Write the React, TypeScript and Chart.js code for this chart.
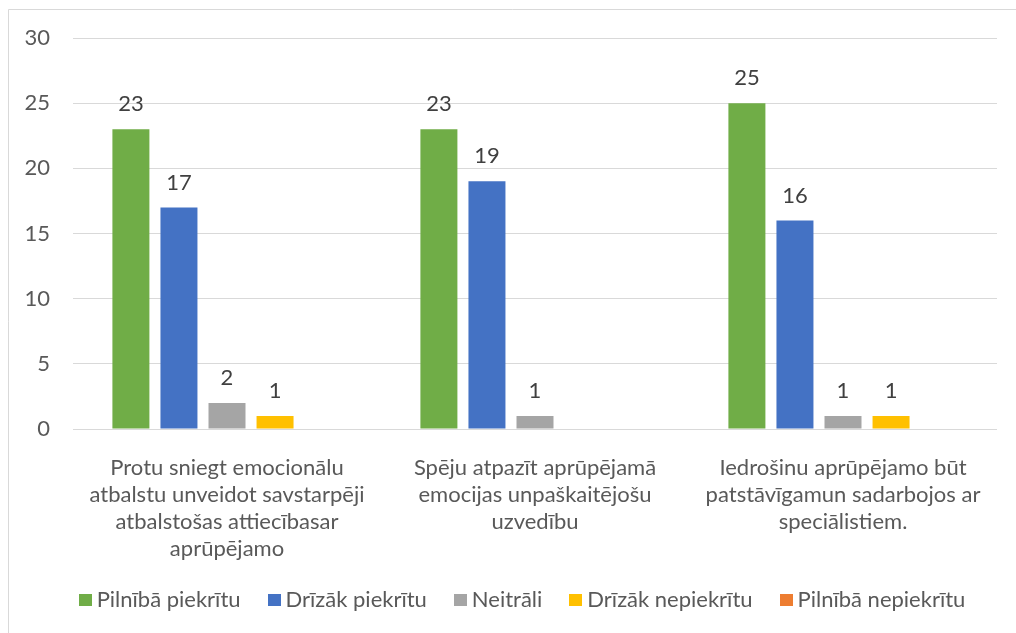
import React, { useEffect, useRef } from "react";
import { Chart, registerables } from "chart.js";

Chart.register(...registerables);

const categories: string[][] = [
  ["Protu sniegt emocionālu", "atbalstu unveidot savstarpēji", "atbalstošas attiecībasar", "aprūpējamo"],
  ["Spēju atpazīt aprūpējamā", "emocijas unpaškaitējošu", "uzvedību"],
  ["Iedrošinu aprūpējamo būt", "patstāvīgamun sadarbojos ar", "speciālistiem."],
];

const seriesNames = [
  "Pilnībā piekrītu",
  "Drīzāk piekrītu",
  "Neitrāli",
  "Drīzāk nepiekrītu",
  "Pilnībā nepiekrītu",
];
const seriesColors = ["#70AD47", "#4472C4", "#A5A5A5", "#FFC000", "#ED7D31"];

const pilnibaPiekritu = [23, 23, 25];
const drizakPiekritu = [17, 19, 16];
const neitrali = [2, 1, 1];
const drizakNepiekritu = [1, 0, 1];
const pilnibaNepiekritu = [0, 0, 0];

const seriesValues = [pilnibaPiekritu, drizakPiekritu, neitrali, drizakNepiekritu, pilnibaNepiekritu];

const yTicks = [0, 5, 10, 15, 20, 25, 30];

const FONT = "Lato";
const FS = 22;

const framePlugin = {
  id: "frame",
  beforeDraw(chart: any) {
    const ctx = chart.ctx;
    ctx.save();
    ctx.fillStyle = "#ffffff";
    ctx.fillRect(0, 0, chart.width, chart.height);
    ctx.strokeStyle = "#d9d9d9";
    ctx.lineWidth = 1;
    ctx.beginPath();
    ctx.moveTo(8.5, chart.height);
    ctx.lineTo(8.5, 9.5);
    ctx.lineTo(chart.width, 9.5);
    ctx.stroke();
    ctx.restore();
  },
};

const labelPlugin = {
  id: "valueLabels",
  afterDatasetsDraw(chart: any) {
    const ctx = chart.ctx;
    ctx.save();
    ctx.font = `${FS}px ${FONT}`;
    ctx.fillStyle = "#404040";
    ctx.textAlign = "center";
    ctx.textBaseline = "middle";
    chart.data.datasets.forEach((ds: any, i: number) => {
      const meta = chart.getDatasetMeta(i);
      meta.data.forEach((el: any, j: number) => {
        const v = ds.data[j];
        if (v == null || v === 0) return;
        ctx.fillText(String(v), el.x, el.y - 25);
      });
    });
    ctx.restore();
  },
};

const legendPlugin = {
  id: "customLegend",
  afterDraw(chart: any) {
    const ctx = chart.ctx;
    ctx.save();
    ctx.font = `${FS}px ${FONT}`;
    ctx.textBaseline = "middle";
    ctx.textAlign = "left";
    const box = 13;
    const gap = 5;
    const itemGap = 27;
    const widths = seriesNames.map((n) => box + gap + ctx.measureText(n).width);
    const total = widths.reduce((a, b) => a + b, 0) + itemGap * (seriesNames.length - 1);
    let x = chart.width / 2 + 14 - total / 2;
    const y = 600;
    seriesNames.forEach((n, i) => {
      ctx.fillStyle = seriesColors[i];
      ctx.fillRect(Math.round(x), y - 6, box, box - 1);
      ctx.fillStyle = "#595959";
      ctx.fillText(n, x + box + gap, y);
      x += widths[i] + itemGap;
    });
    ctx.restore();
  },
};

export default function App() {
  const ref = useRef<HTMLCanvasElement>(null);
  useEffect(() => {
    document.body.style.margin = "0";
    const canvas = ref.current!;
    const chart = new Chart(canvas, {
      type: "bar",
      data: {
        labels: categories,
        datasets: seriesNames.map((name, i) => ({
          label: name,
          data: seriesValues[i],
          backgroundColor: seriesColors[i],
          borderWidth: 0,
          barPercentage: 0.77,
          categoryPercentage: 0.78,
        })),
      },
      options: {
        animation: false,
        responsive: false,
        layout: { padding: { left: 0, right: 19, top: 38, bottom: 0 } },
        plugins: {
          legend: { display: false },
          tooltip: { enabled: false },
        },
        scales: {
          x: {
            grid: { display: false },
            border: { display: false },
            ticks: {
              color: "#595959",
              font: { family: FONT, size: FS, lineHeight: "27px" as any },
              padding: 17,
              maxRotation: 0,
              autoSkip: false,
            },
            afterFit(scale: any) {
              scale.height = 633 - 429;
            },
          },
          y: {
            min: 0,
            max: 30,
            afterBuildTicks(scale: any) {
              scale.ticks = yTicks.map((v) => ({ value: v }));
            },
            grid: { color: "#d9d9d9", lineWidth: 1, drawTicks: false },
            border: { display: false },
            ticks: {
              color: "#595959",
              font: { family: FONT, size: FS },
              padding: 23,
            },
            afterFit(scale: any) {
              scale.width = 73;
            },
          },
        },
      },
      plugins: [framePlugin, labelPlugin, legendPlugin],
    });
    return () => chart.destroy();
  }, []);
  return (
    <div style={{ width: 1016, height: 633 }}>
      <canvas ref={ref} width={1016} height={633} style={{ display: "block" }} />
    </div>
  );
}
